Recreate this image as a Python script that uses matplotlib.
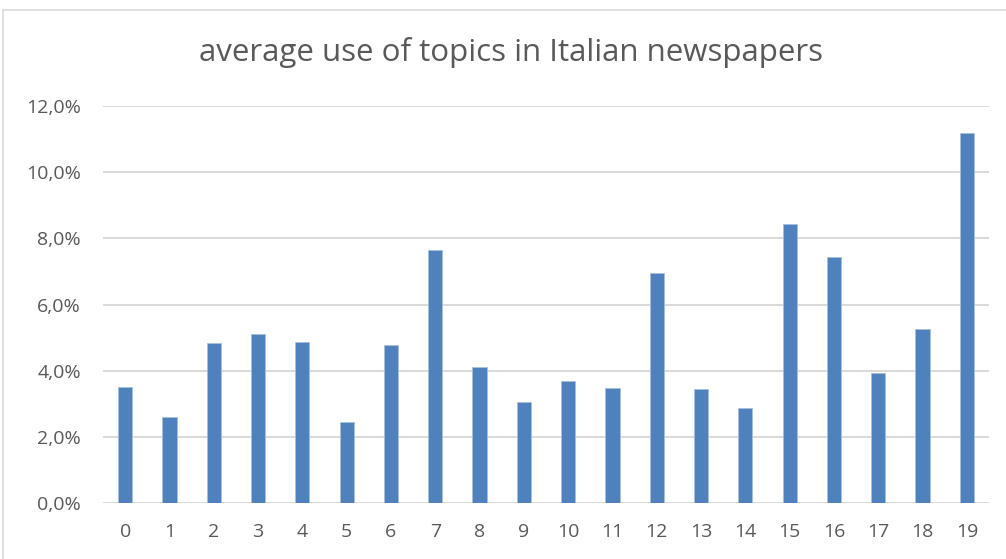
import matplotlib.pyplot as plt
from matplotlib.patches import Rectangle
from matplotlib.ticker import FuncFormatter

plt.rcParams['font.family'] = ['Open Sans', 'DejaVu Sans']

topics = [str(i) for i in range(20)]
usage = [3.52, 2.62, 4.85, 5.11, 4.87, 2.46, 4.79, 7.65, 4.11, 3.07,
         3.69, 3.48, 6.97, 3.46, 2.87, 8.45, 7.45, 3.93, 5.26, 11.18]
yticks = [0, 2, 4, 6, 8, 10, 12]

fig = plt.figure(figsize=(10.06, 5.59), dpi=100)
ax = fig.add_axes([103/1006, 1 - 503.3/559, 886/1006, 397.3/559])

# light frame around the chart area
fig.patches.append(Rectangle((3/1006, -0.05), 1.1, 1 - 10/559 + 0.05,
                             transform=fig.transFigure, fill=False,
                             edgecolor='#D9D9D9', linewidth=1.2))

ax.bar(range(len(usage)), usage, width=0.32, color='#4F81BD',
       edgecolor='#A7C0E0', linewidth=0.6, zorder=3)

ax.set_xlim(-0.5, len(usage) - 0.5)
ax.set_ylim(0, 12)
ax.set_yticks(yticks)
ax.yaxis.set_major_formatter(FuncFormatter(lambda v, p: f'{v:.1f}%'.replace('.', ',')))
ax.set_xticks(range(len(topics)))
ax.set_xticklabels(topics)
ax.grid(axis='y', color='#D9D9D9', linewidth=1.4, zorder=0)
for s in ax.spines.values():
    s.set_visible(False)
ax.tick_params(length=0, labelsize=14, labelcolor='#595959')
ax.tick_params(axis='y', pad=16)
ax.tick_params(axis='x', pad=14)

fig.text(511/1006, 1 - 53/559, 'average use of topics in Italian newspapers',
         ha='center', va='center', fontsize=22.5, color='#595959')

fig.savefig('out.png', dpi=100)
